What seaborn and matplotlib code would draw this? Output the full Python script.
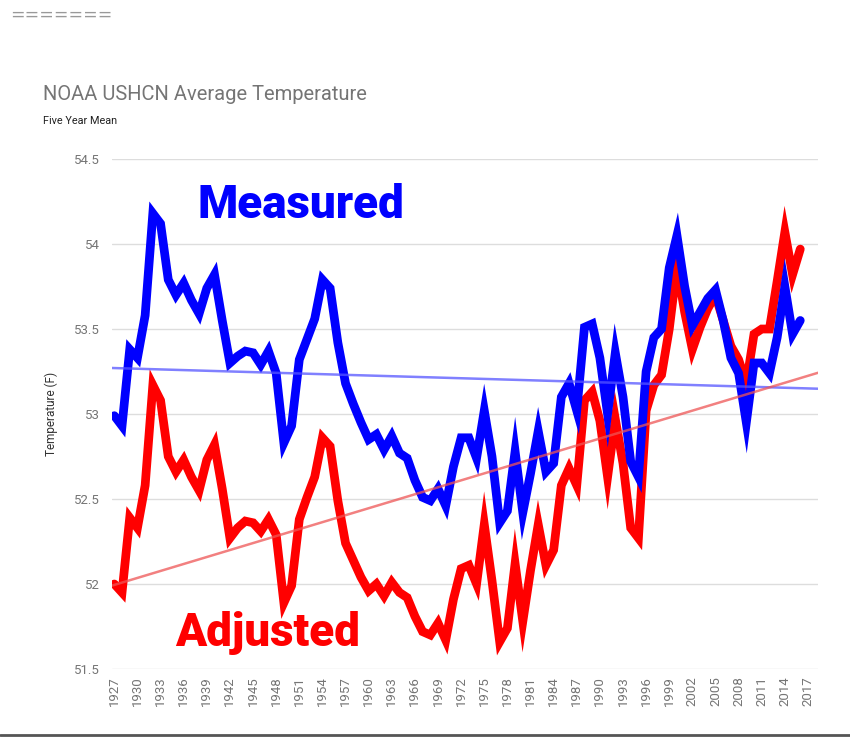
import numpy as np
import pandas as pd
import matplotlib.pyplot as plt
import seaborn as sns
from matplotlib.lines import Line2D

# ---------------------------
# Data (five year mean, deg F)
# ---------------------------
years = list(range(1927, 2017))

measured = [
    52.99, 52.93, 53.38, 53.33, 53.58, 54.18, 54.12, 53.79, 53.70, 53.77,  # 1927-1936
    53.67, 53.59, 53.74, 53.82, 53.55, 53.30, 53.34, 53.37, 53.36, 53.29,  # 1937-1946
    53.37, 53.24, 52.83, 52.93, 53.32, 53.44, 53.56, 53.79, 53.74, 53.42,  # 1947-1956
    53.18, 53.06, 52.95, 52.85, 52.88, 52.79, 52.87, 52.77, 52.74, 52.61,  # 1957-1966
    52.51, 52.49, 52.56, 52.46, 52.69, 52.86, 52.86, 52.74, 53.02, 52.75,  # 1967-1976
    52.36, 52.43, 52.78, 52.42, 52.65, 52.90, 52.66, 52.71, 53.10, 53.18,  # 1977-1986
    53.02, 53.51, 53.53, 53.33, 53.00, 53.36, 53.10, 52.72, 52.63, 53.25,  # 1987-1996
    53.45, 53.50, 53.86, 54.05, 53.75, 53.52, 53.60, 53.68, 53.73, 53.55,  # 1997-2006
    53.33, 53.24, 52.95, 53.30, 53.30, 53.24, 53.45, 53.75, 53.47, 53.55,  # 2007-2016
]

adjusted = [
    52.00, 51.95, 52.39, 52.33, 52.58, 53.17, 53.08, 52.75, 52.66, 52.73,  # 1927-1936
    52.63, 52.55, 52.73, 52.82, 52.56, 52.27, 52.33, 52.37, 52.36, 52.31,  # 1937-1946
    52.38, 52.29, 51.89, 51.99, 52.38, 52.51, 52.63, 52.86, 52.81, 52.49,  # 1947-1956
    52.24, 52.14, 52.04, 51.96, 52.00, 51.93, 52.01, 51.95, 51.92, 51.81,  # 1957-1966
    51.72, 51.70, 51.77, 51.67, 51.91, 52.09, 52.11, 52.00, 52.35, 52.02,  # 1967-1976
    51.66, 51.74, 52.12, 51.78, 52.08, 52.35, 52.11, 52.20, 52.58, 52.68,  # 1977-1986
    52.58, 53.08, 53.13, 52.96, 52.63, 52.97, 52.71, 52.33, 52.27, 53.02,  # 1987-1996
    53.17, 53.23, 53.50, 53.87, 53.60, 53.38, 53.51, 53.62, 53.70, 53.55,  # 1997-2006
    53.40, 53.32, 53.18, 53.47, 53.50, 53.50, 53.78, 54.07, 53.82, 53.97,  # 2007-2016
]

tick_years = list(range(1927, 2018, 3))
y_ticks = [51.5, 52, 52.5, 53, 53.5, 54, 54.5]
y_tick_labels = ["51.5", "52", "52.5", "53", "53.5", "54", "54.5"]

df = pd.DataFrame({"Year": years, "Measured": measured, "Adjusted": adjusted})

# ---------------------------
# Style
# ---------------------------
sns.set_theme(style="white")
plt.rcParams["font.family"] = ["Roboto", "DejaVu Sans"]

W, H = 850, 738
fig = plt.figure(figsize=(W / 100, H / 100), dpi=100)
fig.patch.set_facecolor("white")
ax = fig.add_axes([112 / W, 1 - 669 / H, (818 - 112) / W, (669 - 159) / H])
ax.set_facecolor("white")
ax.set_xlim(1926.7, 2018.3)
ax.set_ylim(51.5, 54.5)

# ---------------------------
# Series
# ---------------------------
sns.lineplot(data=df, x="Year", y="Adjusted", color="#ff0000", lw=6.3,
             solid_joinstyle="miter", ax=ax, zorder=3)
sns.lineplot(data=df, x="Year", y="Measured", color="#0000ff", lw=6.3,
             solid_joinstyle="miter", ax=ax, zorder=3.5)

# linear trendlines across the full axis
sns.regplot(data=df, x="Year", y="Measured", scatter=False, ci=None,
            truncate=False, ax=ax,
            line_kws=dict(color="#5555ff", lw=1.8, alpha=0.75, zorder=5))
sns.regplot(data=df, x="Year", y="Adjusted", scatter=False, ci=None,
            truncate=False, ax=ax,
            line_kws=dict(color="#ee5555", lw=1.8, alpha=0.75, zorder=5))
ax.set_xlim(1926.7, 2018.3)
ax.set_ylim(51.5, 54.5)

# ---------------------------
# Axes cosmetics
# ---------------------------
for s in ax.spines.values():
    s.set_visible(False)
ax.set_yticks(y_ticks)
ax.set_yticklabels(y_tick_labels)
ax.set_xticks(tick_years)
ax.set_xticklabels([str(y) for y in tick_years], rotation=90)
ax.tick_params(axis="y", length=0, pad=9, labelsize=9.5, labelcolor="#757575")
ax.tick_params(axis="x", length=0, pad=5, labelsize=9.5, labelcolor="#757575")
ax.yaxis.grid(True, color="#dddddd", lw=1)
ax.xaxis.grid(False)
ax.set_axisbelow(True)
ax.set_xlabel("")
ax.set_ylabel("Temperature (F)", fontsize=8.5, color="#333333", labelpad=11)

# ---------------------------
# Text
# ---------------------------
fig.text(10 / W, 1 - 15 / H, "=======", fontsize=12.5, color="#999999",
         va="center", family="DejaVu Sans")
fig.text(43 / W, 1 - 95 / H, "NOAA USHCN Average Temperature", fontsize=14.5,
         color="#757575", va="center")
fig.text(43 / W, 1 - 121 / H, "Five Year Mean", fontsize=7.8, color="#222222",
         va="center")
fig.text(301 / W, 1 - 205 / H, "Measured", fontsize=33, fontweight="black",
         color="#0000ff", ha="center", va="center")
fig.text(268 / W, 1 - 633 / H, "Adjusted", fontsize=33, fontweight="black",
         color="#ff0000", ha="center", va="center")

fig.add_artist(Line2D([0, 1], [1 - 735 / H, 1 - 735 / H], transform=fig.transFigure,
                      color="#555555", lw=2))

fig.savefig("out.png", dpi=100)
